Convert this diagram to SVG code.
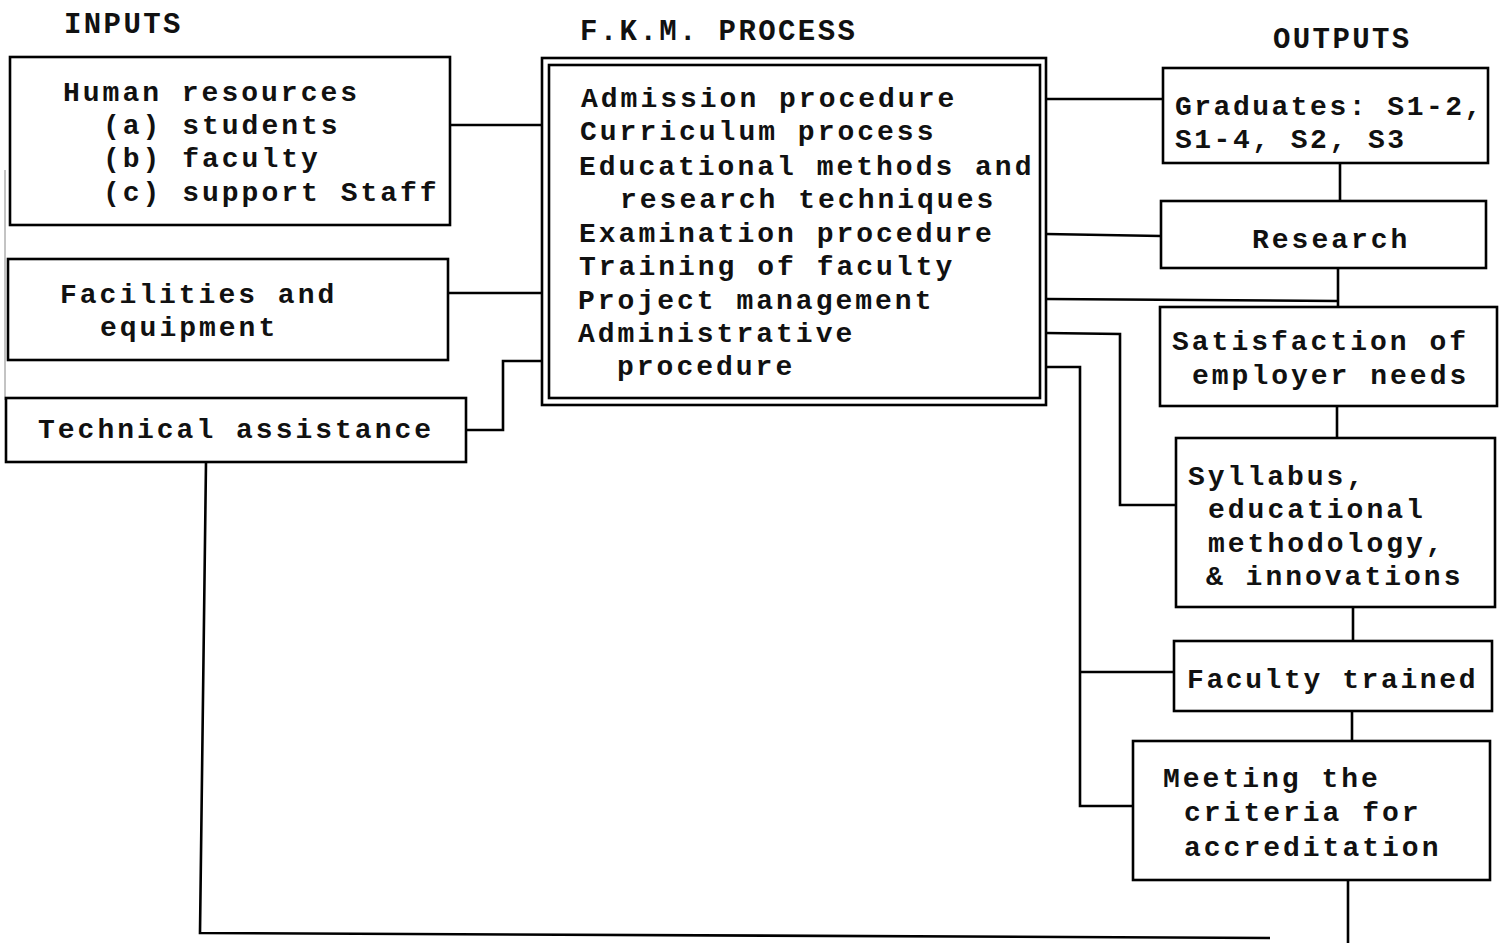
<svg xmlns="http://www.w3.org/2000/svg" width="1508" height="943" viewBox="0 0 1508 943">
<style>
.box{fill:none;stroke:#000;stroke-width:2.6}
.conn{fill:none;stroke:#000;stroke-width:2.6}
.t{font-family:"Liberation Mono","DejaVu Sans Mono",monospace;font-size:28px;font-weight:bold;letter-spacing:3px;fill:#111}
.h{font-family:"Liberation Mono","DejaVu Sans Mono",monospace;font-size:29px;font-weight:bold;letter-spacing:2.4px;fill:#111}
</style>
<rect width="1508" height="943" fill="#fff"/>
<line x1="5" y1="170" x2="5" y2="400" stroke="#888" stroke-width="1"/>
<g id="headers">
<text class="h" x="64" y="33">INPUTS</text>
<text class="h" x="580" y="40">F.K.M.  PROCESS</text>
<text class="h" x="1273" y="48">OUTPUTS</text>
</g>
<g id="connectors">
<polyline class="conn" points="450,125 543,125"/>
<polyline class="conn" points="448,293 543,293"/>
<polyline class="conn" points="466,430 503,430 503,361 543,361"/>
<polyline class="conn" points="1046,99 1163,99"/>
<polyline class="conn" points="1046,234 1161,236"/>
<polyline class="conn" points="1046,299 1338,301"/>
<polyline class="conn" points="1046,333 1120,334 1120,505 1176,505"/>
<polyline class="conn" points="1046,367 1080,367 1080,806 1133,806"/>
<polyline class="conn" points="1080,672 1174,672"/>
<polyline class="conn" points="1340,163 1340,200"/>
<polyline class="conn" points="1338,268 1338,306"/>
<polyline class="conn" points="1337,406 1337,437"/>
<polyline class="conn" points="1353,607 1353,640"/>
<polyline class="conn" points="1352,711 1352,740"/>
<polyline class="conn" points="1348,880 1348,943"/>
<polyline class="conn" points="206,462 200,933 1270,938"/>
</g>
<g id="human-resources">
<rect class="box" x="10" y="57" width="440" height="168"/>
<text class="t" x="63" y="101">Human resources</text>
<text class="t" x="103" y="134">(a) students</text>
<text class="t" x="103" y="167">(b) faculty</text>
<text class="t" x="103" y="201">(c) support Staff</text>
</g>
<g id="facilities">
<rect class="box" x="8" y="259" width="440" height="101"/>
<text class="t" x="60" y="303">Facilities and</text>
<text class="t" x="100" y="336">equipment</text>
</g>
<g id="technical-assistance">
<rect class="box" x="6" y="398" width="460" height="64"/>
<text class="t" x="38" y="438">Technical assistance</text>
</g>
<g id="process">
<rect class="box" x="542" y="58" width="504" height="347"/>
<rect class="box" x="549" y="65" width="491" height="333" stroke-width="2"/>
<text class="t" x="581" y="107">Admission procedure</text>
<text class="t" x="580" y="140">Curriculum process</text>
<text class="t" x="579" y="175">Educational methods and</text>
<text class="t" x="620" y="208">research techniques</text>
<text class="t" x="579" y="242">Examination procedure</text>
<text class="t" x="579" y="275">Training of faculty</text>
<text class="t" x="578" y="309">Project management</text>
<text class="t" x="578" y="342">Administrative</text>
<text class="t" x="617" y="375">procedure</text>
</g>
<g id="graduates">
<rect class="box" x="1163" y="68" width="325" height="95"/>
<text class="t" x="1175" y="115" style="letter-spacing:2.5px">Graduates: S1-2,</text>
<text class="t" x="1175" y="148" style="letter-spacing:2.5px">S1-4, S2, S3</text>
</g>
<g id="research">
<rect class="box" x="1161" y="201" width="325" height="67"/>
<text class="t" x="1252" y="248">Research</text>
</g>
<g id="satisfaction">
<rect class="box" x="1160" y="307" width="337" height="99"/>
<text class="t" x="1172" y="350">Satisfaction of</text>
<text class="t" x="1192" y="384">employer needs</text>
</g>
<g id="syllabus">
<rect class="box" x="1176" y="438" width="319" height="169"/>
<text class="t" x="1188" y="485">Syllabus,</text>
<text class="t" x="1208" y="518">educational</text>
<text class="t" x="1208" y="552">methodology,</text>
<text class="t" x="1206" y="585">&amp; innovations</text>
</g>
<g id="faculty-trained">
<rect class="box" x="1174" y="641" width="318" height="70"/>
<text class="t" x="1187" y="688" style="letter-spacing:2.6px">Faculty trained</text>
</g>
<g id="accreditation">
<rect class="box" x="1133" y="741" width="357" height="139"/>
<text class="t" x="1163" y="787">Meeting the</text>
<text class="t" x="1184" y="821">criteria for</text>
<text class="t" x="1184" y="856">accreditation</text>
</g>
</svg>
